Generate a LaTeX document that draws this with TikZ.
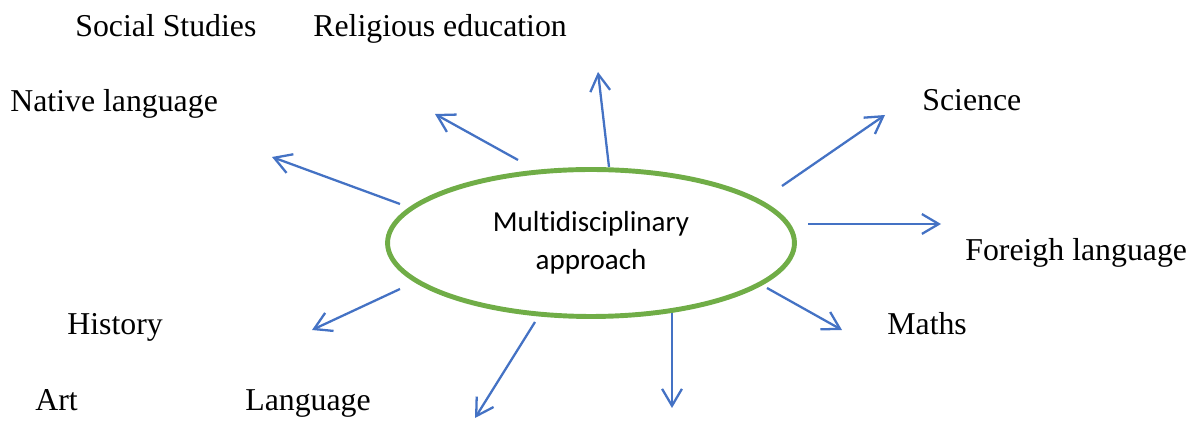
\documentclass[tikz,border=0pt]{standalone}
\usepackage{fontspec}
\setmainfont{Liberation Serif}
\newfontfamily\carlito[Ligatures=NoCommon]{Carlito}
\usetikzlibrary{shapes.geometric, arrows.meta, positioning}
\definecolor{arrowblue}{HTML}{4472C4}
\definecolor{ringgreen}{HTML}{70AD47}

\begin{document}
\begin{tikzpicture}[x=0.02cm, y=-0.02cm,
    subject/.style={anchor=base west, inner sep=0pt, font=\fontsize{18.1}{21}\selectfont},
    link/.style={-{Straight Barb[length=9.6pt, width=11.3pt]}, arrowblue, line width=1.3pt}]
    \useasboundingbox (0, 0) rectangle (1196, 421);

    \node[ellipse, draw=ringgreen, line width=2.8pt, minimum width=8.14cm, minimum height=2.94cm,
      align=center, font=\carlito\fontsize{16.5}{21.6}\selectfont] (core) at (591, 243) {Multidisciplinary\\approach};

    \node[subject] (social) at (75, 37){Social Studies};
    \node[subject] (religion) at (313, 37){Religious education};
    \node[subject] (native) at (10, 112){Native language};
    \node[subject] (science) at (922, 111){Science};
    \node[subject] (foreign) at (965, 261){Foreigh language};
    \node[subject] (history) at (67, 335){History};
    \node[subject] (maths) at (887, 335){Maths};
    \node[subject] (art) at (35, 411){Art};
    \node[subject] (language) at (245, 411){Language};

    % start and tip of each arrow
    \coordinate (s1) at (400, 204); \coordinate (t1) at (272, 157);
    \coordinate (s2) at (518, 160); \coordinate (t2) at (435, 114);
    \coordinate (s3) at (609, 167); \coordinate (t3) at (598, 72);
    \coordinate (s4) at (782, 186); \coordinate (t4) at (885, 115);
    \coordinate (s5) at (808, 224); \coordinate (t5) at (941, 224);
    \coordinate (s6) at (767, 288); \coordinate (t6) at (842, 330);
    \coordinate (s7) at (672, 313); \coordinate (t7) at (672, 408);
    \coordinate (s8) at (535, 322); \coordinate (t8) at (475, 418);
    \coordinate (s9) at (400, 289); \coordinate (t9) at (312, 330);

    \draw[link](s1)--(t1);
    \draw[link](s2)--(t2);
    \draw[link](s3)--(t3);
    \draw[link](s4)--(t4);
    \draw[link](s5)--(t5);
    \draw[link](s6)--(t6);
    \draw[link](s7)--(t7);
    \draw[link](s8)--(t8);
    \draw[link](s9)--(t9);
\end{tikzpicture}
\end{document}
